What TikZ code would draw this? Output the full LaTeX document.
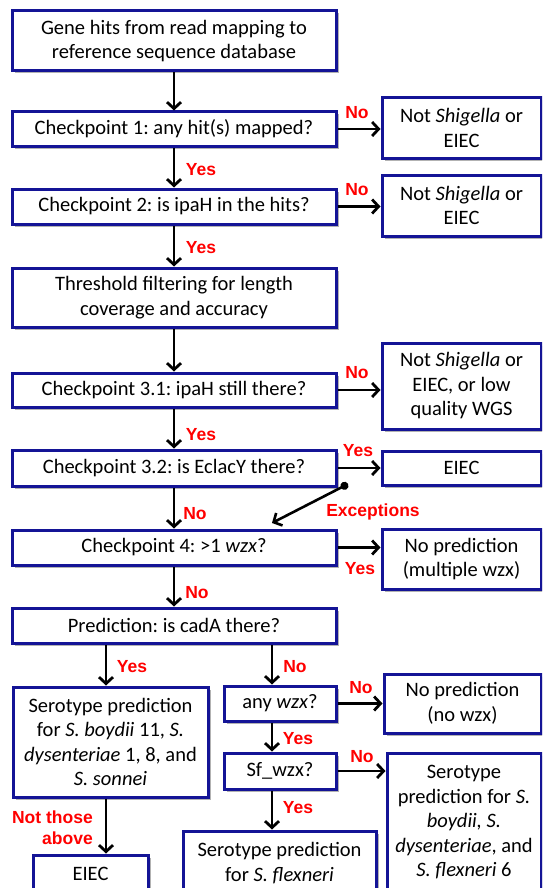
\documentclass[tikz,border=0pt]{standalone}
\usepackage{fontspec}
\setmainfont{Carlito}
\newfontfamily\lblfont{Liberation Sans}
\usetikzlibrary{arrows.meta,shadows}
\definecolor{boxblue}{RGB}{20,20,150}
\definecolor{lblred}{RGB}{255,0,0}
\frenchspacing
\begin{document}
\begin{tikzpicture}[x=1pt,y=-1pt,
  box/.style={draw=boxblue, line width=3pt, fill=white, align=center, inner sep=0pt,
    font=\fontsize{20.5}{24.5}\selectfont,
    drop shadow={shadow xshift=2.5pt, shadow yshift=-2.5pt, opacity=0.3, fill=black}},
  wh/.style 2 args={minimum width=#1pt, minimum height=#2pt},
  arr/.style={line width=2.8pt, -{Straight Barb[length=6.5pt,width=14pt]}},
  lbl/.style={text=lblred, font=\lblfont\bfseries\fontsize{17.5}{21}\selectfont, inner sep=0pt},
]
\useasboundingbox (0,0) rectangle (542,888);
\clip (0,0) rectangle (542,888);
\fill[white] (0,0) rectangle (542,888);

% main column
\node[box, wh={324}{60}] (b1) at (174,41) {Gene hits from read mapping to\\reference sequence database};
\node[box, wh={324}{34}] (cp1) at (174,129) {Checkpoint 1: any hit(s) mapped?};
\node[box, wh={324}{35}] (cp2) at (174,206.5) {Checkpoint 2: is ipaH in the hits?};
\node[box, wh={324}{59}] (thr) at (174,297.5) {Threshold filtering for length\\coverage and accuracy};
\node[box, wh={324}{34}] (cp31) at (174,390) {Checkpoint 3.1: ipaH still there?};
\node[box, wh={324}{36}] (cp32) at (174,468) {Checkpoint 3.2: is EclacY there?};
\node[box, wh={324}{35}] (cp4) at (174,547.5) {Checkpoint 4: >1 \textit{wzx}?};
\node[box, wh={324}{35}] (cadA) at (174,625.5) {Prediction: is cadA there?};

% right column
\node[box, wh={159}{60}] (ns1) at (461.5,128) {Not \textit{Shigella} or\\EIEC};
\node[box, wh={159}{61}] (ns2) at (461.5,205.5) {Not \textit{Shigella} or\\EIEC};
\node[box, wh={159}{86}] (ns3) at (461.5,386) {Not \textit{Shigella} or\\EIEC, or low\\quality WGS};
\node[box, wh={159}{34}] (eiec1) at (461.5,468) {EIEC};
\node[box, wh={159}{60}] (npm) at (461.5,559) {No prediction\\(multiple wzx)};

% lower part
\node[box, wh={195}{110}] (serL) at (110.5,742) {Serotype prediction\\for \textit{S. boydii} 11, \textit{S.}\\\textit{dysenteriae} 1, 8, and\\\textit{S. sonnei}};
\node[box, wh={112}{35}] (anyw) at (280,703.5) {any \textit{wzx}?};
\node[box, wh={157}{59}] (npn) at (462.5,703.5) {No prediction\\(no wzx)};
\node[box, wh={112}{36}] (sfw) at (280,771) {Sf\_wzx?};
\node[box, wh={154}{139}] (serR) at (464,822.5) {Serotype\\prediction for \textit{S.}\\\textit{boydii, S.}\\\textit{dysenteriae}, and\\\textit{S. flexneri} 6};
\node[box, wh={193}{64}] (serF) at (279.5,863) {Serotype prediction\\for \textit{S. flexneri}};
\node[box, wh={115}{38}] (eiecB) at (90.5,874) {EIEC};

\coordinate (colL) at (106,0);
\coordinate (colR) at (272,0);
\coordinate (excS) at (348,484);
\coordinate (excE) at (272,523);

% connectors
\draw[arr] (b1) -- (cp1);
\draw[arr] (cp1.east) -- (cp1.east -| ns1.west);
\draw[arr] (cp1) -- (cp2);
\draw[arr] (cp2.east) -- (cp2.east -| ns2.west);
\draw[arr] (cp2) -- (thr);
\draw[arr] (thr) -- (cp31);
\draw[arr] (cp31.east) -- (cp31.east -| ns3.west);
\draw[arr] (cp31) -- (cp32);
\draw[arr] (cp32.east) -- (cp32.east -| eiec1.west);
\draw[arr] (cp32) -- (cp4);
\draw[arr] (cp4.east) -- (cp4.east -| npm.west);
\draw[arr] (cp4) -- (cadA);
\draw[arr] (cadA.south -| colL) -- (serL.north -| colL);
\draw[arr] (cadA.south -| colR) -- (anyw.north -| colR);
\draw[arr] (anyw.east) -- (anyw.east -| npn.west);
\draw[arr] (anyw.south -| colR) -- (sfw.north -| colR);
\draw[arr] (sfw.east) -- (sfw.east -| serR.west);
\draw[arr] (sfw.south -| colR) -- (serF.north -| colR);
\draw[arr] (serL.south -| colL) -- (eiecB.north -| colL);
\draw[line width=2.6pt, {Circle[length=8pt]}-{Straight Barb[length=6.5pt,width=14pt]}] (excS) -- (excE);

% labels
\node[lbl] (l1) at (357,113) {No};
\node[lbl] (l2) at (201,170) {Yes};
\node[lbl] (l3) at (357,190) {No};
\node[lbl] (l4) at (201,248) {Yes};
\node[lbl] (l5) at (357,373) {No};
\node[lbl] (l6) at (201,435) {Yes};
\node[lbl] (l7) at (358,451) {Yes};
\node[lbl] (l8) at (195,514) {No};
\node[lbl] (l9) at (373,512) {Exceptions};
\node[lbl] (l10) at (360,569) {Yes};
\node[lbl] (l11) at (197,593) {No};
\node[lbl] (l12) at (132,667) {Yes};
\node[lbl] (l13) at (295,667) {No};
\node[lbl] (l14) at (361,688) {No};
\node[lbl] (l15) at (298,739) {Yes};
\node[lbl] (l16) at (362,757) {No};
\node[lbl] (l17) at (298,808) {Yes};
\node[lbl, align=right, anchor=east] (l18) at (93,828) {Not those\\above};
\end{tikzpicture}
\end{document}
